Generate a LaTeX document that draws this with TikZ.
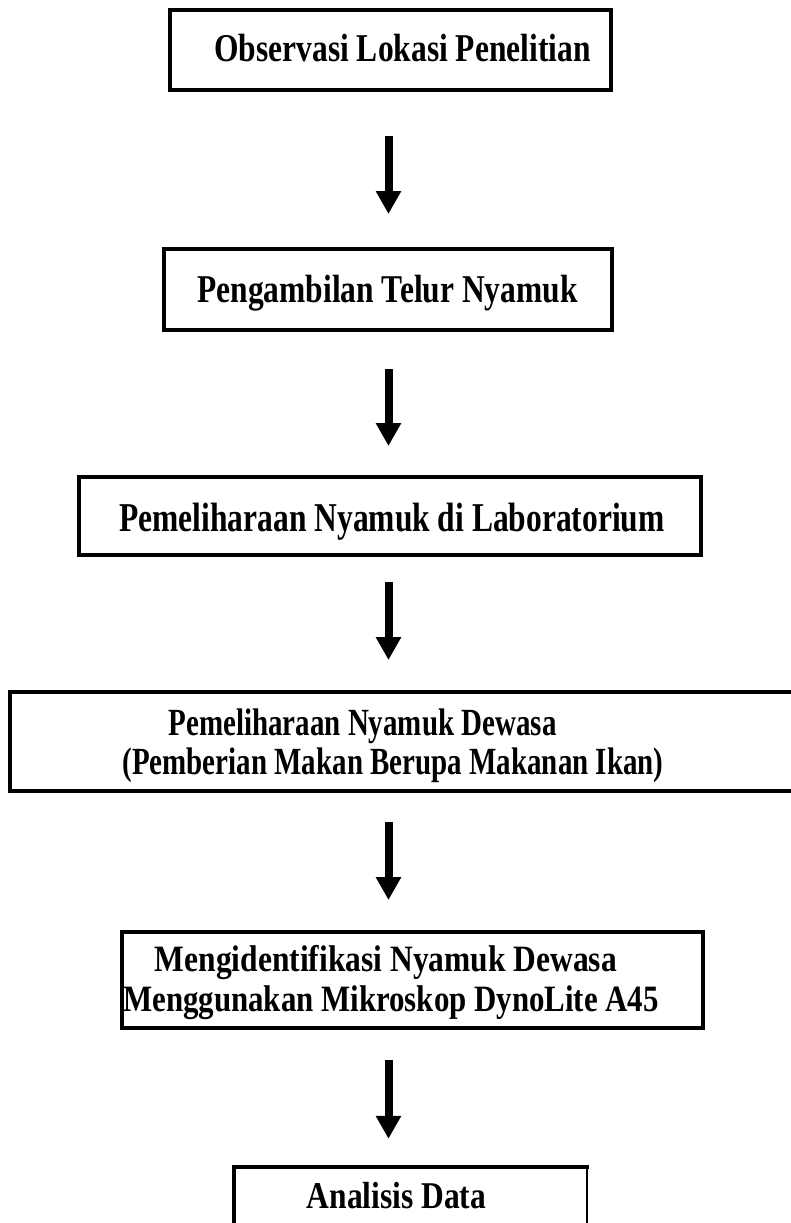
\documentclass[tikz,border=0pt]{standalone}
\usepackage{fontspec}
\usepackage{graphicx}
\setmainfont{Liberation Serif}
\usetikzlibrary{arrows.meta,calc}
\newcommand{\tallt}[3][1]{\scalebox{#1}[#2]{#3}}
\begin{document}
\begin{tikzpicture}[x=1pt,y=-1pt,
  box/.style={draw, line width=4pt, inner sep=0pt},
  lbl/.style={font=\fontsize{31.5}{36}\selectfont\bfseries, inner sep=0pt, anchor=base},
  arr/.style={line width=8pt, -{Triangle[width=24pt,length=23pt]}}]
\useasboundingbox (0,0) rectangle (790,1223);
\fill[white] (0,0) rectangle (790,1223);
% boxes
\node[box, minimum width=441pt, minimum height=80pt] (b1) at (390.5,50) {};
\node[box, minimum width=448pt, minimum height=81pt] (b2) at (388,289.5) {};
\node[box, minimum width=622pt, minimum height=78pt] (b3) at (390,516) {};
\node[box, minimum width=795pt, minimum height=99pt] (b4) at (407.5,741.5) {};
\node[box, minimum width=581pt, minimum height=96pt] (b5) at (412.5,980) {};
\node[inner sep=0pt, minimum width=353pt, minimum height=93pt] (b6) at (410.5,1213.5) {};
\draw[line width=4pt] (b6.south west) -- (b6.north west) -- ([xshift=2pt]b6.north east);
\draw[line width=1.5pt] (b6.north east) -- (b6.south east);
% texts
\node[lbl] (t1) at (402.5,62) {\tallt{1.25}{Observasi Lokasi Penelitian}};
\node[lbl] (t2) at (387.5,302) {\tallt{1.25}{Pengambilan Telur Nyamuk}};
\node[lbl] (t3) at (392,531) {\tallt{1.3}{Pemeliharaan Nyamuk di Laboratorium}};
\node[lbl] (t4a) at (362.5,735) {\tallt[0.92]{1.22}{Pemeliharaan Nyamuk Dewasa}};
\node[lbl] (t4b) at (393,774) {\tallt[0.92]{1.22}{(Pemberian Makan Berupa Makanan Ikan)}};
\node[lbl] (t5a) at (386,971) {\tallt{1.18}{Mengidentifikasi Nyamuk Dewasa}};
\node[lbl] (t5b) at (391,1011) {\tallt[0.98]{1.18}{Menggunakan Mikroskop DynoLite A45}};
\node[lbl] (t6) at (396.5,1208) {\tallt{1.2}{Analisis Data}};
% arrows
\coordinate (ax) at (388.5,0);
\draw[arr] ($(b1.south -| ax)+(0,44)$) -- ($(b2.north -| ax)+(0,-33)$);
\draw[arr] ($(b2.south -| ax)+(0,37)$) -- ($(b3.north -| ax)+(0,-29)$);
\draw[arr] ($(b3.south -| ax)+(0,25)$) -- ($(b4.north -| ax)+(0,-30)$);
\draw[arr] ($(b4.south -| ax)+(0,29)$) -- ($(b5.north -| ax)+(0,-30)$);
\draw[arr] ($(b5.south -| ax)+(0,30)$) -- ($(b6.north -| ax)+(0,-28)$);
\end{tikzpicture}
\end{document}
